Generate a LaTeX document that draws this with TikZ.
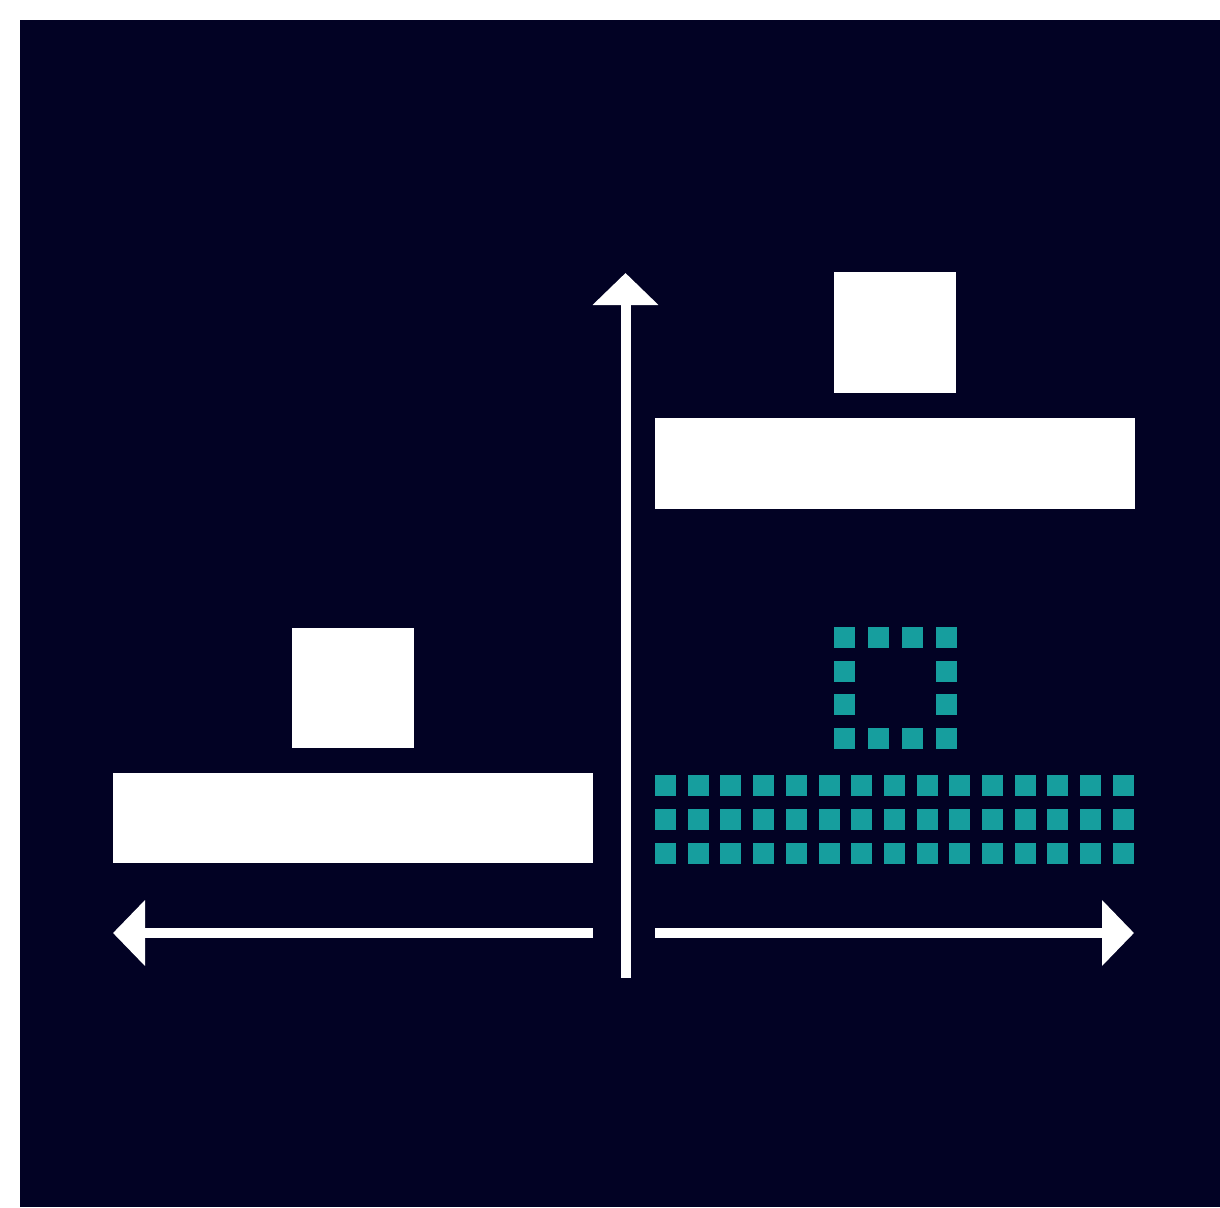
\documentclass[tikz,border=0pt]{standalone}
\usetikzlibrary{arrows.meta}
\definecolor{navy}{RGB}{2,2,36}
\definecolor{teal2}{RGB}{22,158,158}
\begin{document}
\begin{tikzpicture}[x=1pt,y=-1pt,
  whitebox/.style={fill=white,draw=none,inner sep=0pt,outer sep=0pt,anchor=north west},
  dot/.style={fill=teal2,draw=none,inner sep=0pt,outer sep=0pt,anchor=north west,minimum width=21pt,minimum height=21pt},
  axis/.style={white,line width=10pt,line cap=butt,-{Triangle[width=64pt,length=32pt]}}]
\useasboundingbox (0,0) rectangle (1220,1207);
\fill[white] (0,0) rectangle (1220,1207);
\fill[navy] (20,20) rectangle (1220,1207);
% left side
\node[whitebox,minimum width=122pt,minimum height=120pt] (lsq) at (292,628) {};
\node[whitebox,minimum width=480pt,minimum height=90pt] (lbar) at (113,773) {};
% right side
\node[whitebox,minimum width=122pt,minimum height=121pt] (rsq) at (834,272) {};
\node[whitebox,minimum width=480pt,minimum height=91pt] (rbar) at (655,418) {};
% teal dotted square
\foreach \i in {0,...,3}{
  \node[dot] (t\i) at ({834+34*\i},627) {};
  \node[dot] (b\i) at ({834+34*\i},728) {};
}
\foreach \j in {1,2}{
  \node[dot] (l\j) at (834,{627+33.7*\j}) {};
  \node[dot] (r\j) at (936,{627+33.7*\j}) {};
}
% teal grid
\foreach \r in {0,1,2}{
  \foreach \c in {0,...,14}{
    \node[dot] (g\r-\c) at ({655+32.7*\c},{775+34*\r}) {};
  }
}
% arrows
\coordinate (vbot) at (625.5,978);
\coordinate (vtop) at (625.5,273);
\coordinate (lstart) at (593,933);
\coordinate (lend) at (113,933);
\coordinate (rstart) at (655,933);
\coordinate (rend) at (1134,933);
\draw[axis] (vbot) -- (vtop);
\draw[axis] (lstart) -- (lend);
\draw[axis] (rstart) -- (rend);
\end{tikzpicture}
\end{document}
